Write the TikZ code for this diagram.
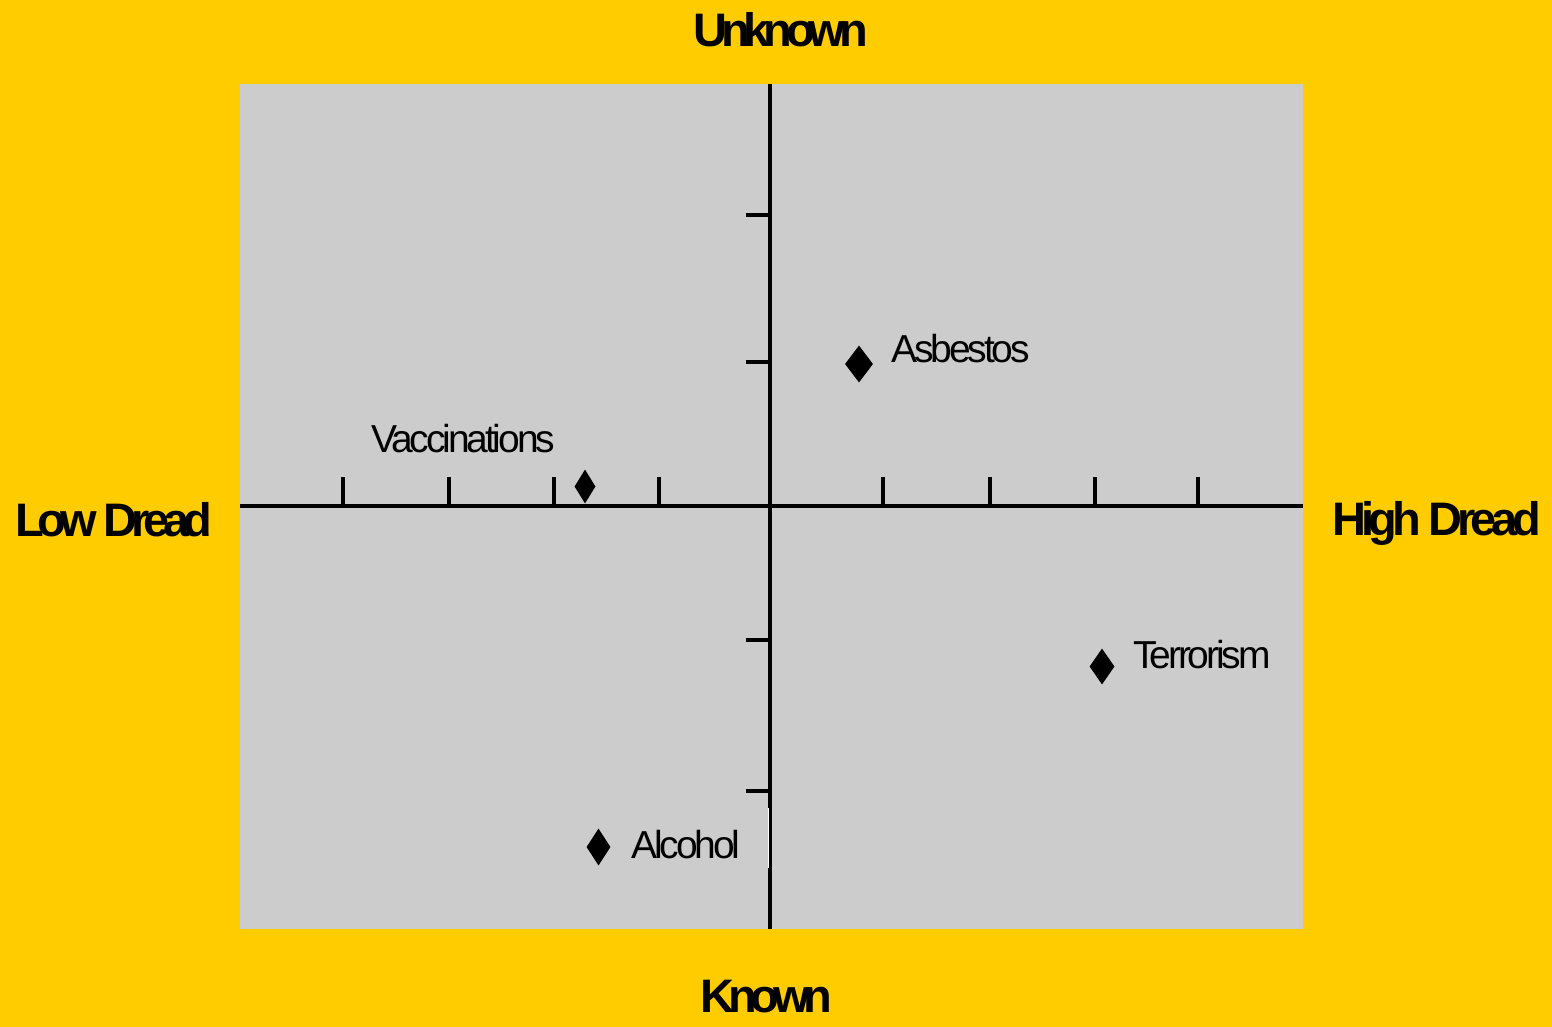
\documentclass[tikz,border=0pt]{standalone}
\usepackage{fontspec}
\usetikzlibrary{shapes.geometric}
\newfontfamily\lblfont[LetterSpace=-8]{Liberation Sans}
\newfontfamily\ttlfont[LetterSpace=-13]{Liberation Sans}
\newfontfamily\ttlfontb[LetterSpace=-11]{Liberation Sans}
\definecolor{bgyellow}{HTML}{FFCC00}
\definecolor{plotgray}{HTML}{CCCCCC}
\begin{document}
\begin{tikzpicture}[x=1pt,y=-1pt,
  axisline/.style={line width=3.5pt},
  tickline/.style={line width=3.5pt},
  marker/.style={shape=diamond,fill=black,inner sep=0pt,draw=none},
  lbl/.style={anchor=base west,inner sep=0pt,font=\lblfont\fontsize{39}{42}\selectfont},
  ttl/.style={anchor=base west,inner sep=0pt,font=\ttlfont\bfseries\fontsize{47}{50}\selectfont}]
\fill[bgyellow] (0,0) rectangle (1552,1027);
\useasboundingbox (0,0) rectangle (1552,1027);
\fill[plotgray] (240,84) rectangle (1303,929);
% axes
\coordinate (xl) at (240,506);
\coordinate (xr) at (1303,506);
\coordinate (yt) at (770,84);
\coordinate (yb) at (770,929);
\draw[axisline] (xl) -- (xr);
\draw[axisline] (yt) -- (yb);
\draw[white,line width=1.2pt] (768.6,808) -- (768.6,868);
% x ticks
\foreach \tx in {343,449,554,659,883,990,1095,1198}
  \draw[tickline] (\tx,477) -- (\tx,506);
% y ticks
\foreach \ty in {215,362,640,791}
  \draw[tickline] (746,\ty) -- (770,\ty);
% markers
\node[marker,minimum width=21pt,minimum height=34pt] (vacc) at (585,486.5) {};
\node[marker,minimum width=28pt,minimum height=37pt] (asb) at (859,364) {};
\node[marker,minimum width=25pt,minimum height=36pt] (terr) at (1102,666.5) {};
\node[marker,minimum width=24pt,minimum height=37pt] (alc) at (598.5,847) {};
% labels
\node[lbl] (tvacc) at (371,452) {Vaccinations};
\node[lbl] (tasb) at (891,362) {Asbestos};
\node[lbl] (tterr) at (1133,668) {Terrorism};
\node[lbl] (talc) at (631,858) {Alcohol};
% titles
\node[ttl] (unk) at (693,47) {Unknown};
\node[ttl] (kn) at (700,1012) {Known};
\node[ttl] (low) at (15,536) {Low Dread};
\node[ttl,font=\ttlfontb\bfseries\fontsize{47}{50}\selectfont] (high) at (1332,535) {High Dread};
\end{tikzpicture}
\end{document}
